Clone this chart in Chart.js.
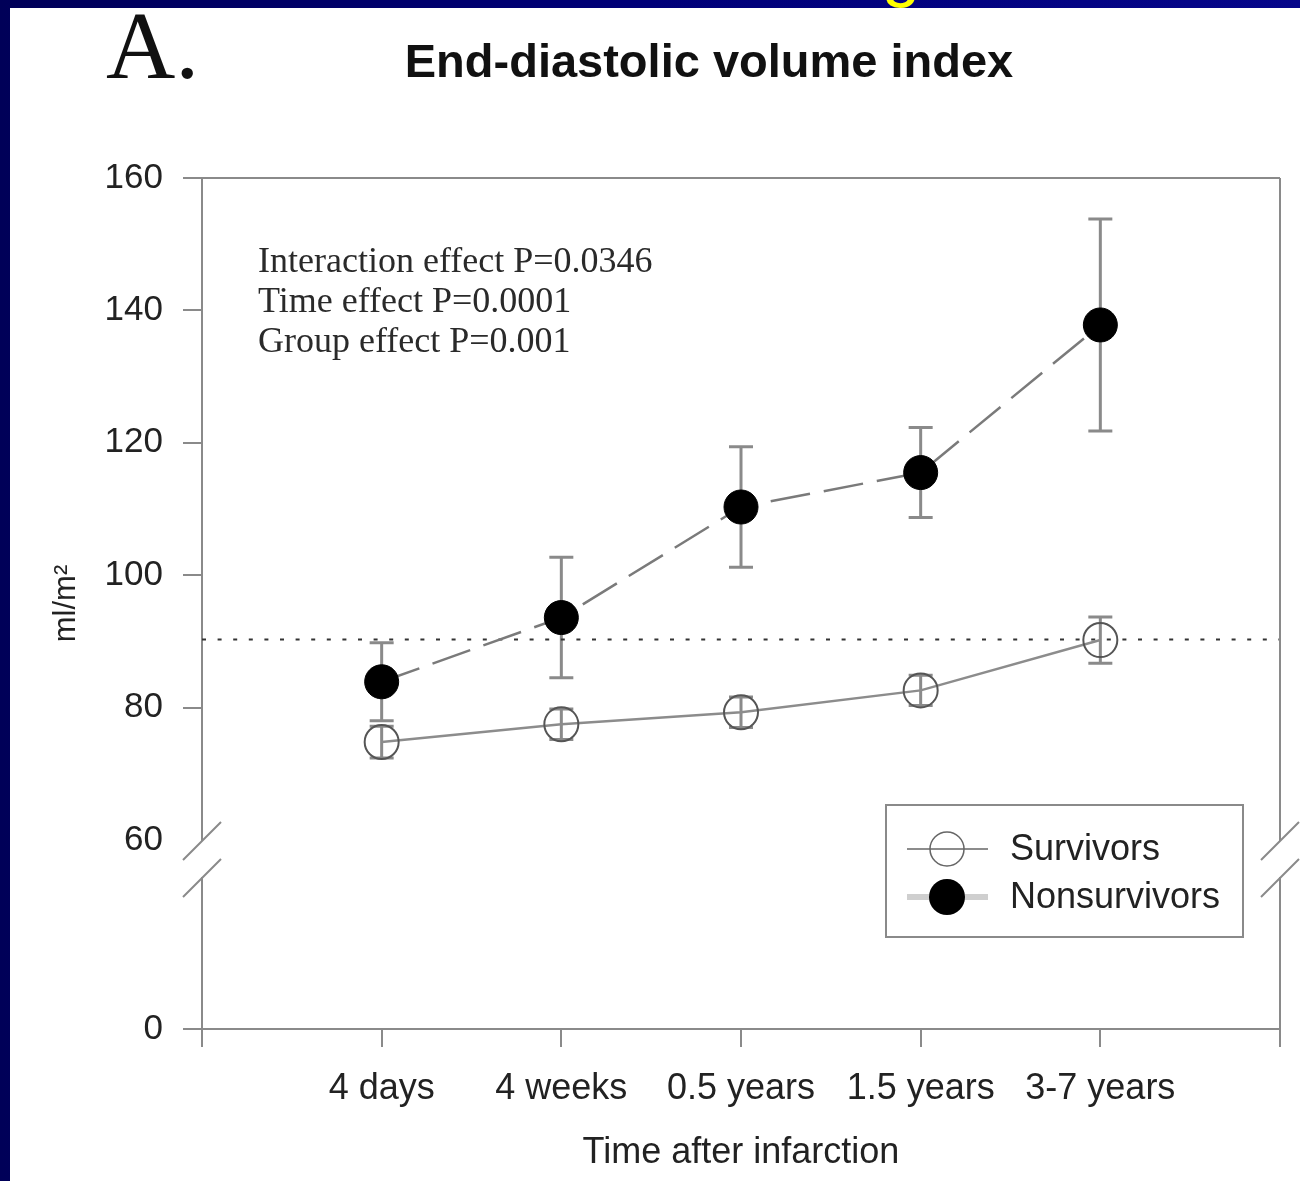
<!DOCTYPE html>
<html>
<head>
<meta charset="utf-8">
<script src="https://cdn.jsdelivr.net/npm/chart.js@4.4.1/dist/chart.umd.min.js"></script>
<style>
  html, body { margin: 0; padding: 0; background: #00006e; }
  canvas { display: block; }
</style>
</head>
<body>
<canvas id="edviChart" width="1300" height="1181"></canvas>
<script>
// --- End-diastolic volume index, survivors vs nonsurvivors ---
const timeLabels = ['4 days', '4 weeks', '0.5 years', '1.5 years', '3-7 years'];

const survivorsMean = [74.8, 77.5, 79.3, 82.6, 90.2];
const survivorsErr = [2.4, 2.3, 2.3, 2.3, 3.5];

const nonsurvivorsMean = [83.9, 93.6, 110.3, 115.5, 137.8];
const nonsurvivorsErr = [5.9, 9.1, 9.1, 6.8, 16.0];

const normalLimit = 90.3;

// y axis is broken below 60: the "0" tick sits at a compressed position
const yTickValues = [60, 80, 100, 120, 140, 160];
const yZeroPos = 31.45;
const yZeroLabel = '0';
const yBreakAt = 60;

const statLines = [
    'Interaction effect P=0.0346',
    'Time effect P=0.0001',
    'Group effect P=0.001'
];

const SANS = '"Liberation Sans", Arial, sans-serif';
const SERIF = '"Liberation Serif", "Times New Roman", serif';
const AXIS_GRAY = '#8a8a8a';

const toPoints = (arr) => arr.map((v, i) => ({ x: i + 1, y: v }));

// slide frame + white figure panel
const framePlugin = {
    id: 'frame',
    beforeDraw(chart) {
        const c = chart.ctx;
        const w = chart.width, h = chart.height;
        c.save();
        const g = c.createLinearGradient(0, 0, w, 0);
        g.addColorStop(0, '#000058');
        g.addColorStop(0.5, '#000078');
        g.addColorStop(1, '#06068a');
        c.fillStyle = g;
        c.fillRect(0, 0, w, h);
        // bottom of the slide title peeking above the panel
        c.fillStyle = '#ffff00';
        c.font = '70px ' + SANS;
        c.textAlign = 'center';
        c.textBaseline = 'alphabetic';
        c.fillText('g', 901, -7);
        c.fillStyle = '#ffffff';
        c.fillRect(10, 8, w - 10, h - 8);
        c.restore();
    }
};

// vertical SE bars, drawn under the markers
const errorBarPlugin = {
    id: 'errorBars',
    beforeDatasetsDraw(chart) {
        const c = chart.ctx;
        const xs = chart.scales.x, ys = chart.scales.y;
        const sets = [
            { mean: nonsurvivorsMean, err: nonsurvivorsErr },
            { mean: survivorsMean, err: survivorsErr }
        ];
        c.save();
        c.strokeStyle = AXIS_GRAY;
        c.lineWidth = 3;
        sets.forEach(s => {
            s.mean.forEach((m, i) => {
                const px = xs.getPixelForValue(i + 1);
                const top = ys.getPixelForValue(m + s.err[i]);
                const bot = ys.getPixelForValue(m - s.err[i]);
                c.beginPath();
                c.moveTo(px, top); c.lineTo(px, bot);
                c.moveTo(px - 12, top); c.lineTo(px + 12, top);
                c.moveTo(px - 12, bot); c.lineTo(px + 12, bot);
                c.stroke();
            });
        });
        c.restore();
    }
};

function drawBreak(c, x, y) {
    // white out the axis between the two slashes
    c.fillStyle = '#ffffff';
    c.fillRect(x - 5, y + 1, 10, 36);
    c.strokeStyle = AXIS_GRAY;
    c.lineWidth = 2;
    c.beginPath();
    c.moveTo(x - 19, y + 20); c.lineTo(x + 19, y - 18);
    c.moveTo(x - 19, y + 57); c.lineTo(x + 19, y + 19);
    c.stroke();
}

const decorPlugin = {
    id: 'decor',
    afterDraw(chart) {
        const c = chart.ctx;
        const a = chart.chartArea;
        const ys = chart.scales.y;
        c.save();

        // box: top and right edges
        c.strokeStyle = AXIS_GRAY;
        c.lineWidth = 2;
        c.beginPath();
        c.moveTo(a.left, a.top); c.lineTo(a.right, a.top);
        c.moveTo(a.right, a.top); c.lineTo(a.right, a.bottom + 18);
        c.stroke();

        const yb = ys.getPixelForValue(yBreakAt);
        drawBreak(c, a.left, yb);
        drawBreak(c, a.right, yb);

        // panel letter and heading
        c.fillStyle = '#111';
        c.textBaseline = 'alphabetic';
        c.textAlign = 'left';
        c.font = '96px ' + SERIF;
        c.fillText('A.', 106, 78);
        c.textAlign = 'center';
        c.font = 'bold 47px ' + SANS;
        c.fillText('End-diastolic volume index', 709, 77);

        // ANOVA results
        c.textAlign = 'left';
        c.fillStyle = '#2a2a2a';
        c.font = '36px ' + SERIF;
        statLines.forEach((t, i) => c.fillText(t, 258, 272 + i * 40));

        // legend
        const lx = 886, ly = 805, lw = 357, lh = 132;
        c.fillStyle = '#ffffff';
        c.fillRect(lx, ly, lw, lh);
        c.strokeStyle = AXIS_GRAY;
        c.lineWidth = 2;
        c.strokeRect(lx, ly, lw, lh);

        const ds = chart.data.datasets;
        const rowS = 849, rowN = 897;
        c.strokeStyle = '#666';
        c.lineWidth = 1.5;
        c.beginPath();
        c.moveTo(907, rowS); c.lineTo(988, rowS);
        c.stroke();
        c.beginPath();
        c.arc(947, rowS, 17, 0, Math.PI * 2);
        c.stroke();

        c.strokeStyle = '#cfcfcf';
        c.lineWidth = 6;
        c.beginPath();
        c.moveTo(907, rowN); c.lineTo(988, rowN);
        c.stroke();
        c.fillStyle = ds[2].pointBackgroundColor;
        c.beginPath();
        c.arc(947, rowN, 18, 0, Math.PI * 2);
        c.fill();

        c.fillStyle = '#222';
        c.font = '36px ' + SANS;
        c.textBaseline = 'middle';
        c.fillText(ds[1].label, 1010, rowS + 1);
        c.fillText(ds[2].label, 1010, rowN + 1);

        c.restore();
    }
};

let edviChartInstance = null;

function initEdviChart() {
    const ctx = document.getElementById('edviChart');
    if (!ctx) return;
    if (edviChartInstance) edviChartInstance.destroy();

    edviChartInstance = new Chart(ctx.getContext('2d'), {
        type: 'line',
        data: {
            datasets: [
                {
                    label: 'Upper normal',
                    data: [{ x: 0, y: normalLimit }, { x: timeLabels.length + 1, y: normalLimit }],
                    borderColor: '#333',
                    borderWidth: 2,
                    borderDash: [4, 11.6],
                    pointRadius: 0,
                    order: 3
                },
                {
                    label: 'Survivors',
                    data: toPoints(survivorsMean),
                    borderColor: '#8c8c8c',
                    borderWidth: 2.5,
                    pointRadius: 17,
                    pointBorderWidth: 2,
                    pointBorderColor: '#555',
                    pointBackgroundColor: 'rgba(0,0,0,0)',
                    order: 2
                },
                {
                    label: 'Nonsurvivors',
                    data: toPoints(nonsurvivorsMean),
                    borderColor: '#7a7a7a',
                    borderWidth: 2.5,
                    borderDash: [40, 14],
                    pointRadius: 17,
                    pointBorderWidth: 1,
                    pointBorderColor: '#000',
                    pointBackgroundColor: '#000',
                    order: 1
                }
            ]
        },
        options: {
            responsive: false,
            animation: false,
            layout: { padding: { top: 178, right: 14, left: 0, bottom: 0 } },
            plugins: {
                legend: { display: false },
                tooltip: { enabled: false }
            },
            scales: {
                x: {
                    type: 'linear',
                    min: 0,
                    max: timeLabels.length + 1,
                    afterFit: (s) => { s.height = 152; },
                    grid: { drawOnChartArea: false, tickLength: 18, color: AXIS_GRAY, lineWidth: 2 },
                    border: { color: AXIS_GRAY, width: 2 },
                    ticks: {
                        stepSize: 1,
                        autoSkip: false,
                        maxRotation: 0,
                        padding: 20,
                        color: '#222',
                        font: { family: SANS, size: 36 },
                        callback: (v) => timeLabels[v - 1] || ''
                    },
                    title: {
                        display: true,
                        text: 'Time after infarction',
                        color: '#222',
                        font: { family: SANS, size: 36 },
                        padding: { top: 6, bottom: 6 }
                    }
                },
                y: {
                    type: 'linear',
                    min: yZeroPos,
                    max: 160,
                    afterFit: (s) => { s.width = 202; },
                    afterBuildTicks: (s) => {
                        s.ticks = [yZeroPos, ...yTickValues].map(v => ({ value: v }));
                    },
                    grid: {
                        drawOnChartArea: false,
                        tickLength: 19,
                        lineWidth: 2,
                        color: AXIS_GRAY,
                        tickColor: (c) => (c.tick && c.tick.value === yBreakAt) ? 'rgba(0,0,0,0)' : AXIS_GRAY
                    },
                    border: { color: AXIS_GRAY, width: 2 },
                    ticks: {
                        padding: 20,
                        color: '#222',
                        font: { family: SANS, size: 35 },
                        callback: (v) => v === yZeroPos ? yZeroLabel : String(v)
                    },
                    title: {
                        display: true,
                        text: 'ml/m²',
                        color: '#222',
                        font: { family: SANS, size: 31 },
                        padding: { top: 48, bottom: 48 }
                    }
                }
            }
        },
        plugins: [framePlugin, errorBarPlugin, decorPlugin]
    });
}

initEdviChart();
</script>
</body>
</html>
